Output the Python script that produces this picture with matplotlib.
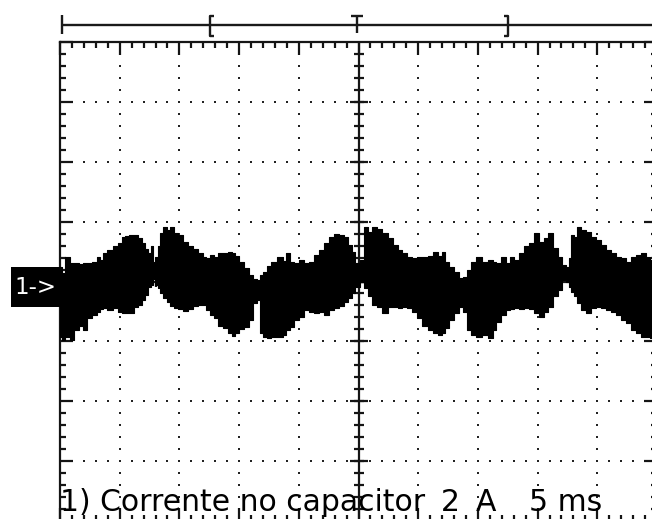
import numpy as np
import matplotlib
matplotlib.use('Agg')
from matplotlib import pyplot as plt
from matplotlib.patches import Rectangle

# scope settings
time_per_div = 5      # ms/div
amps_per_div = 2      # A/div
n_hdiv = 10
n_vdiv = 8

caption = "1) Corrente no capacitor"
caption_scale = "2"
caption_unit = "A"
caption_time = "5 ms"
channel_tag = "1->"

# trace envelope (ms, A)
time_ms = [0.00, 0.28, 0.64, 0.98, 1.40, 1.82, 2.09, 2.51, 2.93, 3.21, 3.49, 3.77,
           4.05, 4.33, 4.61, 5.03, 5.30, 5.59, 6.01, 6.42, 6.70, 6.98, 7.26, 7.54,
           7.68, 7.87, 8.10, 8.29, 8.52, 8.79, 9.07, 9.36, 9.69, 10.05, 10.47, 10.89,
           11.31, 11.87, 12.00, 12.42, 12.71, 13.12, 13.40, 13.82, 14.24, 14.51, 14.80,
           15.22, 15.64, 16.06, 16.33, 16.61, 16.89, 17.17, 17.45, 17.86, 18.43, 18.84,
           19.04, 19.41, 19.82, 20.24, 20.66, 21.08, 21.50, 21.92, 22.34, 22.76, 23.17,
           23.59, 24.01, 24.29, 24.56, 24.93, 25.27, 25.60, 25.96, 26.38, 26.80, 27.22,
           27.64, 28.06, 28.48, 28.89, 29.31, 29.73, 30.15, 30.57, 30.99, 31.41, 31.83,
           32.10, 32.39, 32.81, 33.22, 33.64, 33.92, 34.20, 34.61, 35.03, 35.59, 36.16,
           36.29, 36.71, 37.13, 37.55, 37.75, 38.25, 38.67, 39.09, 39.51, 39.92, 40.34,
           40.76, 41.04, 41.46, 41.88, 42.21, 42.49, 42.71, 42.91, 43.13, 43.41, 43.83,
           44.25, 44.67, 45.08, 45.50, 45.92, 46.34, 46.76, 47.18, 47.60, 48.02, 48.44,
           48.85, 49.27, 49.58]
upper_a = [0.50, 0.29, 0.83, 0.61, 0.61, 0.59, 0.62, 0.62, 0.66, 0.83, 0.72, 0.94,
           1.06, 1.06, 1.19, 1.29, 1.50, 1.52, 1.56, 1.56, 1.45, 1.29, 1.09, 0.94,
           1.19, 0.66, 0.83, 1.17, 1.62, 1.81, 1.72, 1.83, 1.61, 1.56, 1.33, 1.17,
           1.08, 0.94, 0.81, 0.78, 0.89, 0.83, 0.96, 0.96, 0.99, 0.94, 0.85,
           0.66, 0.44, 0.22, 0.08, 0.05, 0.22, 0.33, 0.52, 0.66, 0.83, 0.70,
           0.94, 0.66, 0.61, 0.72, 0.61, 0.66, 0.89, 1.06, 1.28, 1.50, 1.59,
           1.56, 1.50, 1.22, 1.00, 0.61, 0.72, 1.81, 1.67, 1.81, 1.75, 1.61,
           1.45, 1.22, 1.06, 0.94, 0.83, 0.78, 0.81, 0.83, 0.85, 1.00, 0.85,
           1.00, 0.66, 0.50, 0.33, 0.11, 0.16, 0.39, 0.66, 0.83, 0.66, 0.72,
           0.66, 0.61, 0.83, 0.63, 0.83, 0.72, 0.94, 1.19, 1.28, 1.61, 1.33,
           1.45, 1.61, 1.11, 0.83, 0.55, 0.50, 0.78, 1.56, 1.50, 1.83, 1.72,
           1.67, 1.50, 1.39, 1.22, 1.06, 0.94, 0.83, 0.78, 0.66, 0.83, 0.89,
           0.94, 0.83, 0.72]
lower_a = [-1.84, -1.95, -1.85, -1.95, -1.62, -1.48, -1.62, -1.22, -1.12, -1.01, -0.91, -0.88,
           -0.95, -0.95, -0.88, -1.01, -1.04, -1.05, -1.05, -0.85, -0.78, -0.61, -0.45, -0.17,
           -0.11, 0.08, -0.11, -0.21, -0.38, -0.55, -0.67, -0.81, -0.89, -0.92, -0.97, -0.92,
           -0.81, -0.78, -0.78, -0.95, -1.12, -1.23, -1.48, -1.56, -1.73, -1.82, -1.73,
           -1.59, -1.51, -1.28, -0.72, -0.61, -1.73, -1.84, -1.89, -1.84, -1.84, -1.78,
           -1.62, -1.51, -1.28, -1.17, -0.95, -1.01, -1.04, -1.01, -1.12, -0.95, -0.89,
           -0.81, -0.70, -0.56, -0.39, -0.17, 0.00, -0.22, -0.50, -0.78, -0.86, -1.06,
           -0.86, -0.86, -0.89, -0.86, -0.89, -1.01, -1.23, -1.48, -1.62, -1.73, -1.78,
           -1.73, -1.56, -1.28, -1.06, -0.84, -1.01, -1.62, -1.78, -1.84, -1.78, -1.89,
           -1.62, -1.34, -1.12, -0.95, -0.92, -0.89, -0.92, -0.89, -0.92, -1.06, -1.17,
           -1.01, -0.86, -0.50, -0.28, 0.05, 0.00, -0.17, -0.34, -0.50, -0.72, -0.95,
           -1.06, -0.89, -0.86, -0.89, -0.95, -1.01, -1.12, -1.28, -1.39, -1.62, -1.73,
           -1.84, -1.84, -1.89]

W, H = 652, 519
fig = plt.figure(figsize=(W / 100, H / 100), dpi=100)

# screen area in pixels: left 60, right 657, top 42, bottom 521
ax = fig.add_axes([60 / W, (H - 521) / H, 597 / W, 479 / H])
xmax = time_per_div * n_hdiv
ymax = amps_per_div * n_vdiv / 2
ax.set_xlim(0, xmax)
ax.set_ylim(-ymax, ymax)

ink = '#151515'
for s in ax.spines.values():
    s.set_linewidth(1.6)
    s.set_color(ink)

ax.set_xticks(np.arange(0, xmax + 0.01, time_per_div))
ax.set_xticks(np.arange(0, xmax + 0.01, time_per_div / 5), minor=True)
ax.set_yticks(np.arange(-ymax, ymax + 0.01, amps_per_div))
ax.set_yticks(np.arange(-ymax, ymax + 0.01, amps_per_div / 5), minor=True)
ax.tick_params(which='both', direction='in', top=True, right=True, bottom=True, left=True,
               labelbottom=False, labelleft=False, color=ink)
ax.tick_params(which='major', length=9.5, width=1.6)
ax.tick_params(which='minor', length=4.5, width=1.6)

# dotted graticule
xs_minor = np.arange(time_per_div / 5, xmax - 0.01, time_per_div / 5)
ys_minor = np.arange(-ymax + amps_per_div / 5, ymax - 0.01, amps_per_div / 5)
dot = dict(marker='s', ms=1.5, mew=0, color='#222222', ls='none', zorder=1)
for yv in np.arange(-ymax + amps_per_div, ymax - 0.01, amps_per_div):
    if abs(yv) < 1e-9:
        continue
    ax.plot(xs_minor, np.full_like(xs_minor, yv), **dot)
for xv in np.arange(time_per_div, xmax - 0.01, time_per_div):
    if abs(xv - xmax / 2) < 1e-9:
        continue
    ax.plot(np.full_like(ys_minor, xv), ys_minor, **dot)

# centre axes with ticks
ax.axvline(xmax / 2, color=ink, lw=1.6, zorder=2)
ax.axhline(0, color=ink, lw=1.6, zorder=2)
ax.plot(np.full_like(ys_minor, xmax / 2), ys_minor, marker='_', ms=7, mew=1.6,
        color=ink, ls='none', zorder=2)
ymaj = np.arange(-ymax + amps_per_div, ymax - 0.01, amps_per_div)
ax.plot(np.full_like(ymaj, xmax / 2), ymaj, marker='_', ms=13, mew=1.6,
        color=ink, ls='none', zorder=2)
ax.plot(xs_minor, np.zeros_like(xs_minor), marker='|', ms=7, mew=1.6,
        color=ink, ls='none', zorder=2)

# the trace
ax.fill_between(time_ms, lower_a, upper_a, step='mid', color='black', lw=0.8, zorder=3)

# overlay in pixel space for the status bar, channel tag and caption
ov = fig.add_axes([0, 0, 1, 1], zorder=5)
ov.set_xlim(0, W)
ov.set_ylim(H, 0)
ov.axis('off')
ov.patch.set_alpha(0)

bar = dict(color='#1a1a1a', lw=1.7, solid_capstyle='butt')
ov.plot([62, W], [25, 25], **bar)
ov.plot([62, 62], [15, 34], **bar)
ov.plot([213.5, 209.5, 209.5, 213.5], [15.5, 15.5, 35.5, 35.5], **bar)
ov.plot([351, 363], [15.5, 15.5], **bar)
ov.plot([357, 357], [15, 33], **bar)
ov.plot([503.5, 507.5, 507.5, 503.5], [15.5, 15.5, 35.5, 35.5], **bar)

ov.add_patch(Rectangle((11, 267), 49, 40, color='black', lw=0))
ov.text(35, 288, channel_tag, color='white', fontsize=16.5, ha='center', va='center',
        family='DejaVu Sans')

txt = dict(color='black', fontsize=21.5, va='baseline', family='DejaVu Sans')
ov.text(60, 511, caption, **txt)
ov.text(441, 511, caption_scale, **txt)
ov.text(476, 511, caption_unit, **txt)
ov.text(529, 511, caption_time, **txt)

plt.savefig('out.png', dpi=100)
